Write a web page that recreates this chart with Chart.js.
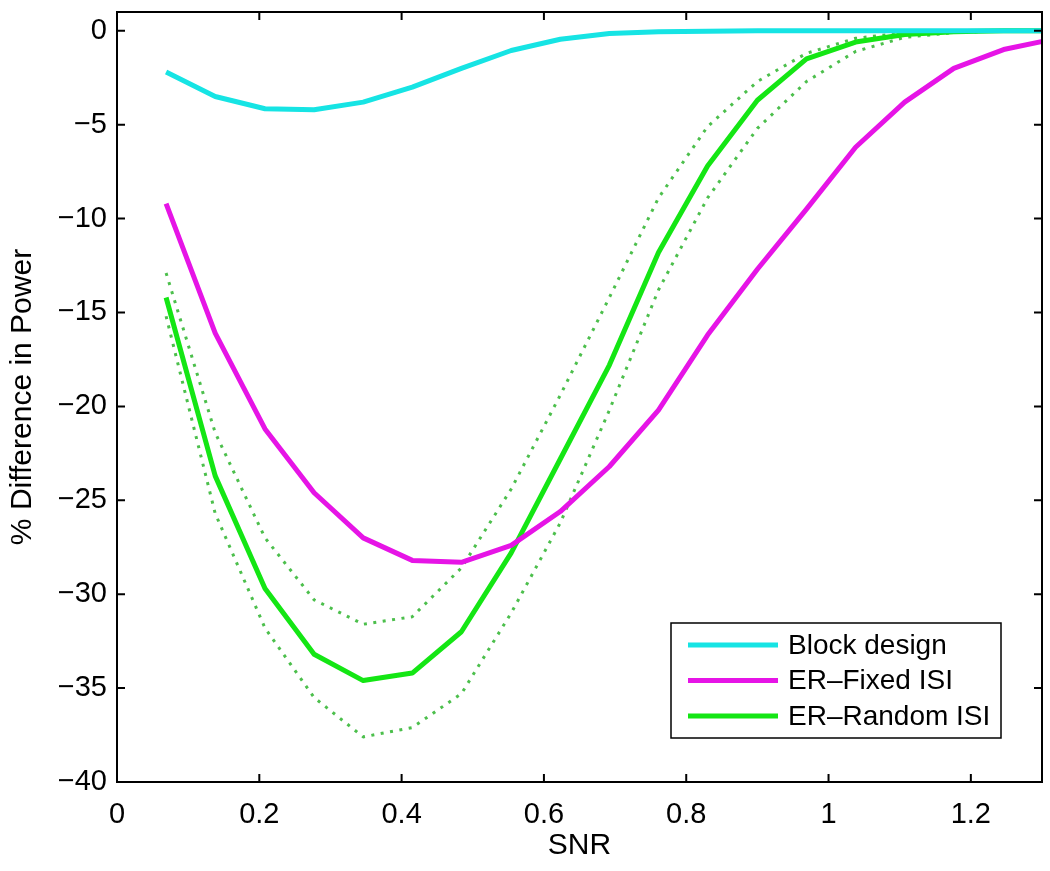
<!DOCTYPE html>
<html lang="en">
<head>
    <meta charset="UTF-8">
    <title>% Difference in Power vs SNR</title>
    <style>
        html, body { margin: 0; padding: 0; background: #fff; }
        #wrap { width: 1050px; height: 871px; }
    </style>
</head>
<body>
    <div id="wrap"><canvas id="myChart" width="1050" height="871"></canvas></div>
    <script src="https://cdn.jsdelivr.net/npm/chart.js@4.4.1/dist/chart.umd.min.js"></script>
    <script>
        // values
        var snr = [0.069, 0.138, 0.208, 0.277, 0.346, 0.415, 0.484, 0.554, 0.623, 0.692,
                   0.761, 0.830, 0.900, 0.969, 1.038, 1.107, 1.176, 1.246, 1.315];
        var blockDesign = [-2.2, -3.5, -4.15, -4.2, -3.8, -3.0, -2.0, -1.05, -0.45, -0.15,
                           -0.05, -0.02, 0, 0, 0, 0, 0, 0, 0];
        var erFixed = [-9.2, -16.1, -21.2, -24.6, -27.0, -28.2, -28.3, -27.4, -25.6, -23.2,
                       -20.2, -16.2, -12.7, -9.5, -6.2, -3.8, -2.0, -1.0, -0.45];
        var erRandom = [-14.2, -23.7, -29.7, -33.2, -34.6, -34.2, -32.0, -27.8, -22.8, -17.8,
                        -11.8, -7.2, -3.7, -1.5, -0.6, -0.2, -0.05, 0, 0];
        var erRandomUpper = [-12.9, -21.4, -27.0, -30.3, -31.6, -31.2, -28.6, -24.4, -19.4, -14.2,
                             -8.9, -5.1, -2.7, -1.2, -0.4, -0.1, 0, 0, 0];
        var erRandomLower = [-15.2, -25.7, -31.8, -35.5, -37.6, -37.1, -35.3, -31.0, -26.2, -20.2,
                             -13.8, -8.9, -5.2, -2.7, -1.1, -0.35, -0.1, 0, 0];
        var xTicks = [0, 0.2, 0.4, 0.6, 0.8, 1, 1.2];
        var yTicks = [-40, -35, -30, -25, -20, -15, -10, -5, 0];

        var FONT = "'Liberation Sans', Arial, Helvetica, sans-serif";

        function pts(ys) {
            return snr.map(function (x, i) { return { x: x, y: ys[i] }; });
        }

        // matlab style box with inward ticks on all four sides
        var boxTicks = {
            id: 'boxTicks',
            afterDraw: function (chart) {
                var ctx = chart.ctx, a = chart.chartArea;
                var xs = chart.scales.x, ys = chart.scales.y;
                var len = 8;
                ctx.save();
                ctx.strokeStyle = '#000';
                ctx.lineWidth = 2;
                ctx.strokeRect(a.left, a.top, a.right - a.left, a.bottom - a.top);
                ctx.beginPath();
                xTicks.forEach(function (v) {
                    var px = xs.getPixelForValue(v);
                    ctx.moveTo(px, a.bottom); ctx.lineTo(px, a.bottom - len);
                    ctx.moveTo(px, a.top); ctx.lineTo(px, a.top + len);
                });
                yTicks.forEach(function (v) {
                    var py = ys.getPixelForValue(v);
                    ctx.moveTo(a.left, py); ctx.lineTo(a.left + len, py);
                    ctx.moveTo(a.right, py); ctx.lineTo(a.right - len, py);
                });
                ctx.stroke();
                ctx.restore();
            }
        };

        // legend box in the lower right corner of the axes
        var innerLegend = {
            id: 'innerLegend',
            afterDraw: function (chart) {
                var ctx = chart.ctx, a = chart.chartArea;
                var right = a.right - 41, bottom = a.bottom - 44;
                var left = right - 330, top = bottom - 115;
                ctx.save();
                ctx.fillStyle = '#fff';
                ctx.fillRect(left, top, right - left, bottom - top);
                ctx.strokeStyle = '#000';
                ctx.lineWidth = 1.5;
                ctx.strokeRect(left, top, right - left, bottom - top);
                ctx.font = '28px ' + FONT;
                ctx.textBaseline = 'middle';
                ctx.textAlign = 'left';
                for (var i = 0; i < 3; i++) {
                    var ds = chart.data.datasets[i];
                    var y = top + 22 + i * 35.5;
                    ctx.strokeStyle = ds.borderColor;
                    ctx.lineWidth = 5;
                    ctx.beginPath();
                    ctx.moveTo(left + 17, y);
                    ctx.lineTo(left + 107, y);
                    ctx.stroke();
                    ctx.fillStyle = '#000';
                    ctx.fillText(ds.label, left + 117, y + 1);
                }
                ctx.restore();
            }
        };

        var ctx = document.getElementById('myChart').getContext('2d');
        var myChart = new Chart(ctx, {
            type: 'line',
            data: {
                datasets: [
                    { label: 'Block design', data: pts(blockDesign), borderColor: '#16e4e4', borderWidth: 5 },
                    { label: 'ER\u2013Fixed ISI', data: pts(erFixed), borderColor: '#e614e6', borderWidth: 5 },
                    { label: 'ER\u2013Random ISI', data: pts(erRandom), borderColor: '#14e614', borderWidth: 5 },
                    { label: 'upper', data: pts(erRandomUpper), borderColor: '#4cbf4c', borderWidth: 3, borderDash: [3, 6.5] },
                    { label: 'lower', data: pts(erRandomLower), borderColor: '#4cbf4c', borderWidth: 3, borderDash: [3, 6.5] }
                ]
            },
            options: {
                responsive: false,
                animation: false,
                devicePixelRatio: 1,
                layout: { padding: { left: 0, right: 8, top: 12, bottom: 0 } },
                elements: {
                    point: { radius: 0 },
                    line: { tension: 0, fill: false, borderJoinStyle: 'round' }
                },
                plugins: {
                    legend: { display: false },
                    tooltip: { enabled: false }
                },
                scales: {
                    x: {
                        type: 'linear',
                        min: 0,
                        max: 1.3,
                        grid: { display: false, drawTicks: false },
                        border: { display: false },
                        afterBuildTicks: function (scale) {
                            scale.ticks = xTicks.map(function (v) { return { value: v }; });
                        },
                        afterFit: function (scale) {
                            scale.height = 89;
                            scale.paddingLeft = 0;
                            scale.paddingRight = 0;
                        },
                        ticks: {
                            color: '#000',
                            padding: 16,
                            maxRotation: 0,
                            font: { family: FONT, size: 29 },
                            callback: function (v) { return String(v); }
                        },
                        title: {
                            display: true,
                            text: 'SNR',
                            color: '#000',
                            font: { family: FONT, size: 30 },
                            padding: { top: 0, bottom: 7 }
                        }
                    },
                    y: {
                        min: -40,
                        max: 1,
                        grid: { display: false, drawTicks: false },
                        border: { display: false },
                        afterBuildTicks: function (scale) {
                            scale.ticks = yTicks.map(function (v) { return { value: v }; });
                        },
                        afterFit: function (scale) {
                            scale.width = 117;
                            scale.paddingTop = 0;
                            scale.paddingBottom = 0;
                        },
                        ticks: {
                            color: '#000',
                            padding: 10,
                            font: { family: FONT, size: 29 },
                            callback: function (v) { return v < 0 ? '\u2212' + Math.abs(v) : String(v); }
                        },
                        title: {
                            display: true,
                            text: '% Difference in Power',
                            color: '#000',
                            font: { family: FONT, size: 30 },
                            padding: { top: 5, bottom: 0 }
                        }
                    }
                }
            },
            plugins: [boxTicks, innerLegend]
        });
    </script>
</body>
</html>
